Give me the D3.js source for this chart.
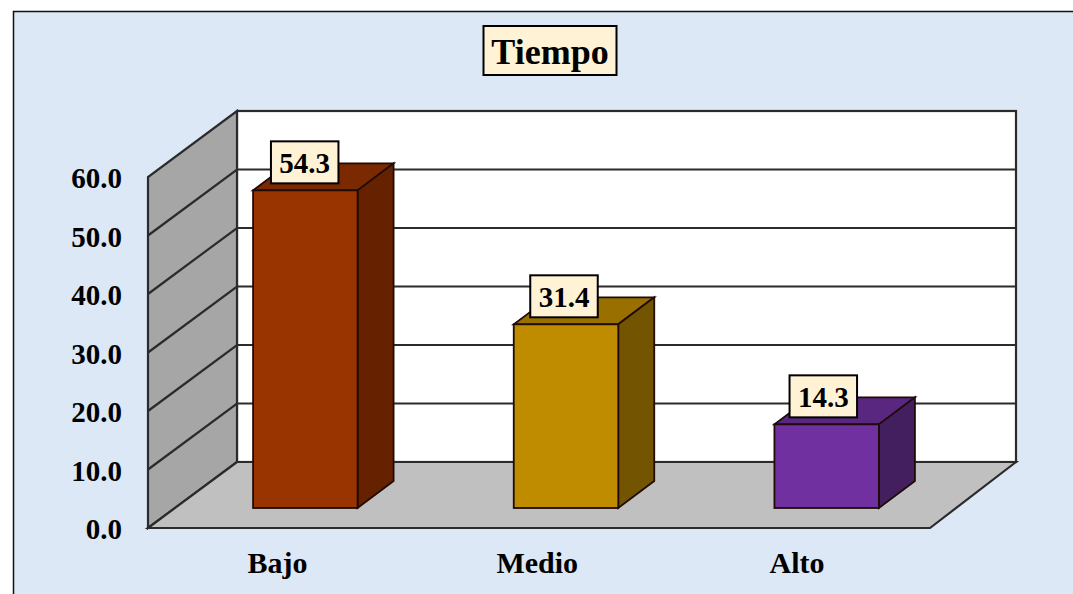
<!DOCTYPE html>
<html>
<head>
<meta charset="utf-8">
<script src="https://cdn.jsdelivr.net/npm/d3@7"></script>
<style>
  html, body { margin: 0; padding: 0; background: #fff; }
  svg { display: block; }
  text { font-family: "Liberation Serif", serif; font-weight: bold; fill: #000; }
</style>
</head>
<body>
<div id="chart"></div>
<script>
// --data--
const categories = ["Bajo", "Medio", "Alto"];
const values = [54.3, 31.4, 14.3];
const value_labels = ["54.3", "31.4", "14.3"];
const y_ticks = [0, 10, 20, 30, 40, 50, 60];
const chart_title = "Tiempo";
const front_colors = ["#993300", "#BF8C00", "#7030A0"];
const top_colors = ["#7A2900", "#997000", "#592680"];
const side_colors = ["#662200", "#735400", "#431F60"];

// --layout--
const WIDTH = 1073;
const HEIGHT = 594;
const depth_x = 89;
const depth_y = 66;
const bar_dx = 27;     // how far the bars sit behind the front plane
const bar_dy = 20;
const bar_depth_x = 36;
const bar_depth_y = 27;

var svg = d3.select("#chart")
  .append("svg")
  .attr("width", WIDTH)
  .attr("height", HEIGHT);

var x = d3.scaleBand().domain(categories).range([148, 930]);
var y = d3.scaleLinear().domain([0, 60]).range([528, 177]);
// labels drift a little from the bar centres in the original
var x_label = d3.scalePoint().domain(categories).range([277.5, 797]);
var x_box = d3.scalePoint().domain(categories).range([304.7, 823.3]);

function pts(arr) { return arr.map(p => p.join(",")).join(" "); }

// panel
svg.append("rect")
  .attr("x", 13.5).attr("y", 11.5)
  .attr("width", WIDTH).attr("height", HEIGHT)
  .attr("fill", "#DCE8F5")
  .attr("stroke", "#111")
  .attr("stroke-width", 1.5);

// back wall, left wall, floor
var x0 = x.range()[0], x1 = x.range()[1];
var back_left = x0 + depth_x, back_right = 1016;
var wall_line = "#2b2b2b";

svg.append("rect")
  .attr("x", back_left).attr("y", y(60) - depth_y)
  .attr("width", back_right - back_left).attr("height", y(0) - y(60))
  .attr("fill", "#fff")
  .attr("stroke", wall_line).attr("stroke-width", 2.2);

svg.append("polygon")
  .attr("points", pts([[x0, y(0)], [x0, y(60)], [back_left, y(60) - depth_y], [back_left, y(0) - depth_y]]))
  .attr("fill", "#A6A6A6")
  .attr("stroke", wall_line).attr("stroke-width", 2.2);

svg.append("polygon")
  .attr("points", pts([[x0, y(0)], [x1, y(0)], [back_right, y(0) - depth_y], [back_left, y(0) - depth_y]]))
  .attr("fill", "#C0C0C0")
  .attr("stroke", wall_line).attr("stroke-width", 2.2);

// gridlines run up the left wall then along the back
svg.selectAll(".grid")
  .data(y_ticks.slice(1, -1))
  .enter()
  .append("polyline")
  .attr("class", "grid")
  .attr("points", d => pts([[x0, y(d)], [back_left, y(d) - depth_y], [back_right, y(d) - depth_y]]))
  .attr("fill", "none")
  .attr("stroke", wall_line).attr("stroke-width", 2.2);

// y axis labels
svg.selectAll(".y-label")
  .data(y_ticks)
  .enter()
  .append("text")
  .attr("class", "y-label")
  .attr("x", 122)
  .attr("y", d => y(d) + 11)
  .attr("text-anchor", "end")
  .style("font-size", "29px")
  .text(d => d3.format(".1f")(d));

// x axis labels
svg.selectAll(".x-label")
  .data(categories)
  .enter()
  .append("text")
  .attr("class", "x-label")
  .attr("x", d => x_label(d))
  .attr("y", 573)
  .attr("text-anchor", "middle")
  .style("font-size", "30px")
  .text(d => d);

// bars
const bar_width = 104.5;
var bars = svg.selectAll(".bar")
  .data(categories.map((c, i) => ({ c: c, v: values[i], i: i })))
  .enter()
  .append("g")
  .attr("class", "bar");

function bar_left(d) { return x(d.c) + x.bandwidth() / 2 - bar_width / 2 + bar_dx; }
var bar_line = "#1f0b08";

bars.append("polygon") // top
  .attr("points", d => {
    var l = bar_left(d), t = y(d.v) - bar_dy;
    return pts([[l, t], [l + bar_width, t], [l + bar_width + bar_depth_x, t - bar_depth_y], [l + bar_depth_x, t - bar_depth_y]]);
  })
  .attr("fill", d => top_colors[d.i])
  .attr("stroke", bar_line).attr("stroke-width", 1.8);

bars.append("polygon") // side
  .attr("points", d => {
    var r = bar_left(d) + bar_width, t = y(d.v) - bar_dy, b = y(0) - bar_dy;
    return pts([[r, t], [r + bar_depth_x, t - bar_depth_y], [r + bar_depth_x, b - bar_depth_y], [r, b]]);
  })
  .attr("fill", d => side_colors[d.i])
  .attr("stroke", bar_line).attr("stroke-width", 1.8);

bars.append("rect") // front
  .attr("x", d => bar_left(d))
  .attr("y", d => y(d.v) - bar_dy)
  .attr("width", bar_width)
  .attr("height", d => y(0) - y(d.v))
  .attr("fill", d => front_colors[d.i])
  .attr("stroke", bar_line).attr("stroke-width", 1.8);

// value labels
function label_box(g, cx, top, w, h, label, size, baseline) {
  g.append("rect")
    .attr("x", cx - w / 2).attr("y", top)
    .attr("width", w).attr("height", h)
    .attr("fill", "#FFF2D5")
    .attr("stroke", "#000").attr("stroke-width", 2);
  g.append("text")
    .attr("x", cx).attr("y", top + baseline)
    .attr("text-anchor", "middle")
    .style("font-size", size + "px")
    .text(label);
}

bars.each(function(d) {
  label_box(d3.select(this), x_box(d.c), y(d.v) - bar_dy - 49, 67.5, 42, value_labels[d.i], 29, 32);
});

// title
label_box(svg.append("g"), 550, 26, 133, 49, chart_title, 36, 38);
</script>
</body>
</html>
